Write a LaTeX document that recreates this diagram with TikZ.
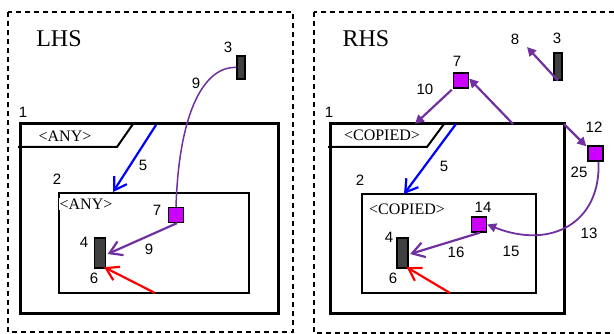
\documentclass[tikz,border=0pt]{standalone}
\usepackage{fontspec}
\setmainfont{Liberation Serif}
\setsansfont{Liberation Sans}
\usetikzlibrary{arrows.meta}
\definecolor{rulepurple}{HTML}{7030A0}
\definecolor{nodemag}{HTML}{CC00FF}
\definecolor{compgray}{HTML}{404040}
\begin{document}
\begin{tikzpicture}[x=1pt,y=-1pt,
  frame/.style={draw=black,line width=1.6pt,dash pattern=on 5pt off 4pt},
  outerbox/.style={draw=black,line width=3pt},
  innerbox/.style={draw=black,line width=1.4pt},
  tabline/.style={draw=black,line width=2pt},
  comp/.style={draw=black,fill=compgray,line width=1.3pt,minimum width=11pt,minimum height=30pt,inner sep=0pt},
  port/.style={draw=black,fill=nodemag,line width=1.3pt,minimum size=15pt,inner sep=0pt},
  num/.style={font=\sffamily\fontsize{15}{15}\selectfont,inner sep=0pt},
  kind/.style={font=\fontsize{16}{16}\selectfont,inner sep=0pt},
  side/.style={font=\fontsize{24}{24}\selectfont,inner sep=0pt},
  openhead/.style={-{Straight Barb[length=12pt,width=15pt]}},
  solidhead/.style={-{Triangle[length=9pt,width=9pt]}},
  flow/.style={line width=2.2pt},
]
\useasboundingbox (0,0) rectangle (614,334);
\clip (0,0) rectangle (614,334);

% ---------- left-hand side ----------
\draw[frame] (8,12) rectangle (293,332);
\node[side] (lhs) at (59,39) {LHS};

\draw[outerbox] (20,124) rectangle (278,313);
\draw[tabline] (18,147) -- (117,147) -- (133,124);
\node[kind] (lany) at (65,136) {<ANY>};
\node[num] (l1) at (23,112) {1};

\draw[innerbox] (59,193) rectangle (249,293);
\node[kind,fill=white,inner sep=1pt] (lany2) at (86,204) {<ANY>};
\node[num] (l2) at (57,179) {2};

\node[comp,minimum height=23pt,minimum width=8pt] (l3) at (241,67.5) {};
\node[num] (l3n) at (228,47) {3};
\node[port] (l7) at (176,215) {};
\node[num] (l7n) at (157,210) {7};
\node[comp] (l4) at (100,253) {};
\node[num] (l4n) at (84,242) {4};

\coordinate (lblueS) at (156,125);
\coordinate (lblueE) at (113,192);
\coordinate (lredS) at (155,293);

\draw[flow,blue,openhead] (lblueS) -- (lblueE);
\node[num] (l5) at (143,165) {5};

\draw[rulepurple,line width=1.5pt] (l3.west) .. controls (205,66) and (179,110) .. (l7.north);
\node[num] (l9a) at (196,83) {9};

\draw[flow,rulepurple,openhead] ([xshift=1pt]l7.south) -- ([xshift=1.5pt,yshift=-1pt]l4.east);
\node[num] (l9b) at (149,249) {9};

\draw[flow,red,openhead] (lredS) -- ([xshift=-2pt,yshift=1.5pt]l4.south east);
\node[num] (l6) at (94,278) {6};

% ---------- right-hand side ----------
\draw[frame] (314,12) rectangle (620,333);
\node[side] (rhs) at (366,39) {RHS};

\draw[outerbox] (330,124) rectangle (564,313);
\draw[tabline] (328,147) -- (427,147) -- (444,124);
\node[kind] (rcop) at (382,135) {<COPIED>};
\node[num] (r1) at (329,112) {1};

\draw[innerbox] (362,194) rectangle (536,293);
\node[kind] (rcop2) at (407,209) {<COPIED>};
\node[num] (r2) at (360,180) {2};

\node[comp,minimum height=27pt,minimum width=8pt] (r3) at (558,66.5) {};
\node[num] (r3n) at (557,38) {3};
\coordinate (r8end) at (527,47);
\node[num] (r8) at (515,39) {8};

\node[port] (r7) at (461,80.5) {};
\node[num] (r7n) at (457,61) {7};
\node[port] (r12) at (595.5,153.5) {};
\node[num] (r12n) at (594,127) {12};
\node[port] (r14) at (479,224.5) {};
\node[num] (r14n) at (483,207) {14};
\node[comp] (r4) at (402.5,253) {};
\node[num] (r4n) at (389,237) {4};

\coordinate (rblueS) at (456,124);
\coordinate (rblueE) at (404,194);
\coordinate (rtabhit) at (415,124);
\coordinate (rtopS) at (513,124);
\coordinate (rcorner) at (564,124);
\coordinate (rredS) at (450,293);

\draw[flow,blue,openhead] (rblueS) -- (rblueE);
\node[num] (r5) at (444,166) {5};

\draw[flow,rulepurple,solidhead] (r3.south) -- (r8end);
\draw[flow,rulepurple,solidhead] ([xshift=-1pt,yshift=-1pt]r7.south west) -- (rtabhit);
\node[num] (r10) at (425,89) {10};
\draw[flow,rulepurple,solidhead] (rtopS) -- ([yshift=2pt]r7.east);
\draw[flow,rulepurple,solidhead] (rcorner) -- ([xshift=-1pt,yshift=-1pt]r12.north west);
\node[num] (r25) at (579,172) {25};

\draw[rulepurple,line width=1.8pt,solidhead] ([xshift=3pt]r12.south) .. controls (601,222) and (552,250) .. (r14.east);
\node[num] (r13) at (589,233) {13};
\node[num] (r15) at (511,251) {15};

\draw[flow,rulepurple,openhead] ([xshift=1pt]r14.south) -- ([xshift=1.5pt,yshift=-1pt]r4.east);
\node[num] (r16) at (456,252) {16};

\draw[flow,red,openhead] (rredS) -- ([xshift=-2pt,yshift=1.5pt]r4.south east);
\node[num] (r6) at (393,278) {6};
\end{tikzpicture}
\end{document}
